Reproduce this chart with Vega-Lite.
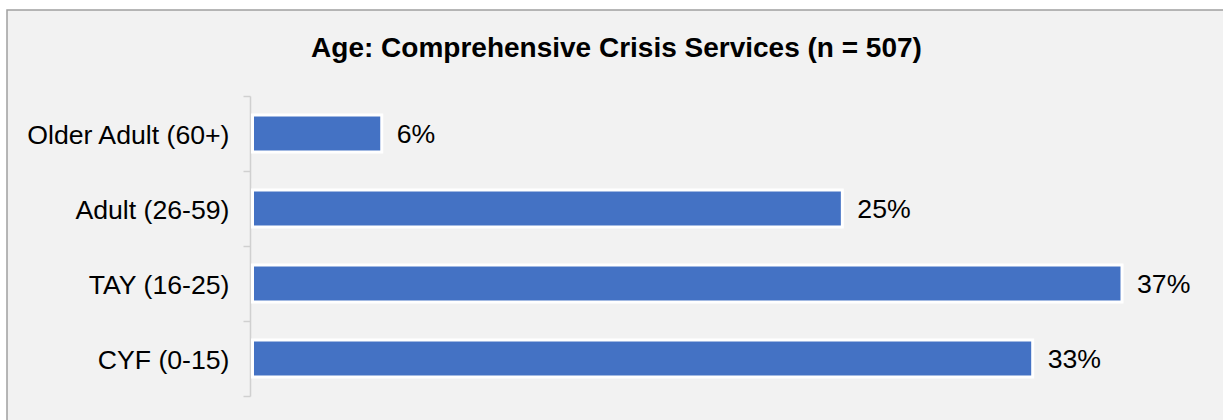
{
  "$schema": "https://vega.github.io/schema/vega-lite/v6.json",
  "width": 1219,
  "height": 413,
  "autosize": {"type": "none"},
  "padding": {"left": 7, "top": 10, "right": -3, "bottom": -3},
  "background": "#ffffff",
  "config": {
    "font": "Liberation Sans",
    "view": {"fill": "#f2f2f2", "stroke": "#a0a0a0", "strokeWidth": 1.5}
  },
  "title": {
    "text": "Age: Comprehensive Crisis Services (n = 507)",
    "font": "Liberation Sans",
    "fontSize": 28,
    "fontWeight": "bold",
    "color": "#000000",
    "anchor": "middle",
    "baseline": "alphabetic",
    "offset": -88
  },
  "data": {
    "values": [
      {"group": "Older Adult (60+)", "pct": 5.5, "label": "6%"},
      {"group": "Adult (26-59)", "pct": 25.1, "label": "25%"},
      {"group": "TAY (16-25)", "pct": 37.0, "label": "37%"},
      {"group": "CYF (0-15)", "pct": 33.2, "label": "33%"}
    ]
  },
  "encoding": {
    "y": {
      "field": "group",
      "type": "nominal",
      "sort": null,
      "scale": {"range": [86, 386], "paddingInner": 0, "paddingOuter": 0},
      "axis": {
        "title": null,
        "offset": -243,
        "domainColor": "#d0d0d0",
        "domainWidth": 1.5,
        "tickColor": "#d0d0d0",
        "tickWidth": 1.5,
        "tickSize": 7,
        "tickBand": "extent",
        "labelFont": "Liberation Sans",
        "labelFontSize": 26.67,
        "labelColor": "#000000",
        "labelPadding": 14,
        "labelOffset": 1.5,
        "labelLimit": 400,
        "grid": false
      }
    },
    "x": {
      "field": "pct",
      "type": "quantitative",
      "scale": {"domain": [0, 40], "range": [245.5, 1185.5], "nice": false},
      "axis": null
    }
  },
  "layer": [
    {
      "mark": {"type": "bar", "color": "#4472c4", "stroke": "#ffffff", "strokeWidth": 3, "height": {"band": 0.493}}
    },
    {
      "mark": {"type": "text", "align": "left", "baseline": "middle", "dx": 15, "dy": 1.5, "fontSize": 26.67, "font": "Liberation Sans", "color": "#000000"},
      "encoding": {"text": {"field": "label"}}
    }
  ]
}
